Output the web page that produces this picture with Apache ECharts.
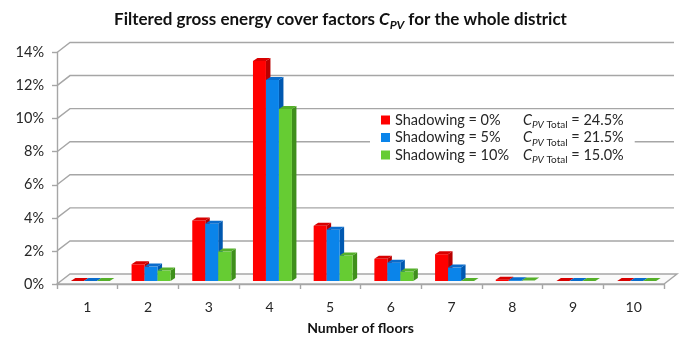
<!DOCTYPE html>
<html>
<head>
<meta charset="utf-8">
<script src="https://cdn.jsdelivr.net/npm/echarts@6/dist/echarts.min.js"></script>
<style>
  html, body { margin: 0; padding: 0; background: #fff; }
  #chart { width: 681px; height: 341px; }
</style>
</head>
<body>
<div id="chart"></div>
<script>
// Number of floors (categories)
const floors = ['1', '2', '3', '4', '5', '6', '7', '8', '9', '10'];

// Filtered gross energy cover factor C_PV per floor count, in percent
const shadowNames = ['Shadowing = 0%', 'Shadowing = 5%', 'Shadowing = 10%'];
const shadow0  = [0, 1.01, 3.66, 13.3, 3.34, 1.34, 1.62, 0.08, 0, 0];
const shadow5  = [0, 0.87, 3.46, 12.15, 3.10, 1.11, 0.81, 0.05, 0, 0];
const shadow10 = [0, 0.63, 1.78, 10.4, 1.54, 0.57, 0, 0.03, 0, 0];

// Whole-district totals shown next to the legend entries
const cpvTotals = ['24.5%', '21.5%', '15.0%'];

// Value-axis ticks (percent)
const yMin = 0, yMax = 14, yStep = 2;

const FONT = 'Lato, "Open Sans", sans-serif';
const faceColors = [
  { front: '#ff0000', side: '#b80000', top: '#d80000' },
  { front: '#0a84ea', side: '#0058b0', top: '#0a6ccc' },
  { front: '#66cc33', side: '#3f8f1c', top: '#55b02a' }
];

// pseudo-3D depth of the chart walls and of each bar, in pixels
const WALL_DX = 13, WALL_DY = -10;
const BAR_OFF_X = 3, BAR_OFF_Y = -3;
const BAR_DX = 4.5, BAR_DY = -3;

function wallRender(params, api) {
  const cw = api.size([1, 0])[0];
  const children = [];
  const left = api.coord([0, 0])[0] - cw / 2;
  const right = api.coord([floors.length - 1, 0])[0] + cw / 2;
  const lineStyle = { stroke: '#a6a6a6', lineWidth: 1.4, fill: null };
  for (let v = yMin; v <= yMax; v += yStep) {
    const y = api.coord([0, v])[1];
    if (v === yMin) {
      children.push({
        type: 'polygon',
        shape: { points: [[left, y], [right, y], [right + WALL_DX, y + WALL_DY], [left + WALL_DX, y + WALL_DY]] },
        style: { fill: '#fafafa', stroke: '#a6a6a6', lineWidth: 1.4 }
      });
    } else {
      children.push({
        type: 'polyline',
        shape: { points: [[left, y], [left + WALL_DX, y + WALL_DY], [right + 10, y + WALL_DY]] },
        style: lineStyle
      });
    }
  }
  return { type: 'group', children };
}

function barRender(k) {
  return function (params, api) {
    const idx = api.value(0);
    const v = api.value(1);
    const base = api.coord([idx, 0]);
    const top = api.coord([idx, v]);
    const cw = api.size([1, 0])[0];
    const bw = cw * 0.214;
    const x0 = base[0] + BAR_OFF_X - 1.5 * bw + k * bw;
    const x1 = x0 + bw;
    const yb = base[1] + BAR_OFF_Y;
    const yt = top[1] + BAR_OFF_Y;
    const c = faceColors[k];
    const children = [];
    if (yb - yt > 0.5) {
      children.push({
        type: 'polygon',
        shape: { points: [[x1, yt], [x1 + BAR_DX, yt + BAR_DY], [x1 + BAR_DX, yb + BAR_DY], [x1, yb]] },
        style: { fill: c.side }
      });
      children.push({
        type: 'rect',
        shape: { x: x0, y: yt, width: bw, height: yb - yt },
        style: { fill: c.front }
      });
    }
    children.push({
      type: 'polygon',
      shape: { points: [[x0, yt], [x1, yt], [x1 + BAR_DX, yt + BAR_DY], [x0 + BAR_DX, yt + BAR_DY]] },
      style: { fill: c.top }
    });
    return { type: 'group', children };
  };
}

const seriesData = [shadow0, shadow5, shadow10];

const chart = echarts.init(document.getElementById('chart'), null, { renderer: 'canvas' });
chart.setOption({
  animation: false,
  textStyle: { fontFamily: FONT },
  title: {
    left: 'center',
    top: 4,
    text: 'Filtered gross energy cover factors {ci|C}{si|PV}{b| for the whole district}',
    textStyle: {
      fontFamily: FONT, fontSize: 17, fontWeight: 'bold', color: '#111',
      rich: {
        ci: { fontFamily: FONT, fontSize: 17, fontWeight: 'bold', fontStyle: 'italic', color: '#111', lineHeight: 22 },
        si: { fontFamily: FONT, fontSize: 12, fontWeight: 'bold', fontStyle: 'italic', color: '#111', verticalAlign: 'bottom' },
        b: { fontFamily: FONT, fontSize: 17, fontWeight: 'bold', color: '#111', lineHeight: 22 }
      }
    }
  },
  legend: {
    orient: 'vertical',
    left: 370,
    top: 112.5,
    padding: [0, 11, 0, 11],
    itemGap: 0,
    itemWidth: 9,
    itemHeight: 9,
    icon: 'rect',
    backgroundColor: '#fff',
    data: shadowNames,
    formatter: function (name) {
      const i = shadowNames.indexOf(name);
      return '{n|' + name + '}{c|C}{s|PV}{t| Total}{v| = ' + cpvTotals[i] + '}';
    },
    textStyle: {
      fontFamily: FONT, fontSize: 14.5, color: '#262626',
      rich: {
        n: { fontFamily: FONT, fontSize: 14.5, color: '#262626', width: 128, lineHeight: 20 },
        c: { fontFamily: FONT, fontSize: 14.5, fontStyle: 'italic', color: '#262626', lineHeight: 20 },
        s: { fontFamily: FONT, fontSize: 10, fontStyle: 'italic', color: '#262626', verticalAlign: 'bottom' },
        t: { fontFamily: FONT, fontSize: 10, color: '#262626', verticalAlign: 'bottom' },
        v: { fontFamily: FONT, fontSize: 14.5, color: '#262626', lineHeight: 20 }
      }
    }
  },
  grid: { left: 57, right: 17, top: 52.5, bottom: 57, containLabel: false, outerBoundsMode: 'none' },
  xAxis: {
    type: 'category',
    data: floors,
    name: 'Number of floors',
    nameLocation: 'middle',
    nameGap: 37,
    nameTextStyle: { fontFamily: FONT, fontSize: 14, fontWeight: 'bold', color: '#111' },
    axisLine: { lineStyle: { color: '#a6a6a6', width: 1.4 } },
    axisTick: { show: true, length: 5, lineStyle: { color: '#a6a6a6', width: 1.4 } },
    axisLabel: { fontFamily: FONT, fontSize: 14, color: '#262626', margin: 16 },
    splitLine: { show: false }
  },
  yAxis: {
    type: 'value',
    min: yMin,
    max: yMax,
    interval: yStep,
    axisLine: { show: true, lineStyle: { color: '#a6a6a6', width: 1.4 } },
    axisTick: { show: true, length: 5, lineStyle: { color: '#a6a6a6', width: 1.4 } },
    axisLabel: { fontFamily: FONT, fontSize: 14.5, color: '#262626', margin: 13, formatter: '{value}%' },
    splitLine: { show: false }
  },
  series: [
    {
      type: 'custom',
      name: 'walls',
      clip: false,
      silent: true,
      z: 1,
      renderItem: wallRender,
      data: [[0, 0]]
    }
  ].concat(seriesData.map(function (arr, k) {
    return {
      type: 'custom',
      name: shadowNames[k],
      clip: false,
      z: 2,
      itemStyle: { color: faceColors[k].front },
      encode: { x: 0, y: 1 },
      renderItem: barRender(k),
      data: arr.map(function (v, i) { return [i, v]; })
    };
  }))
});
</script>
</body>
</html>
